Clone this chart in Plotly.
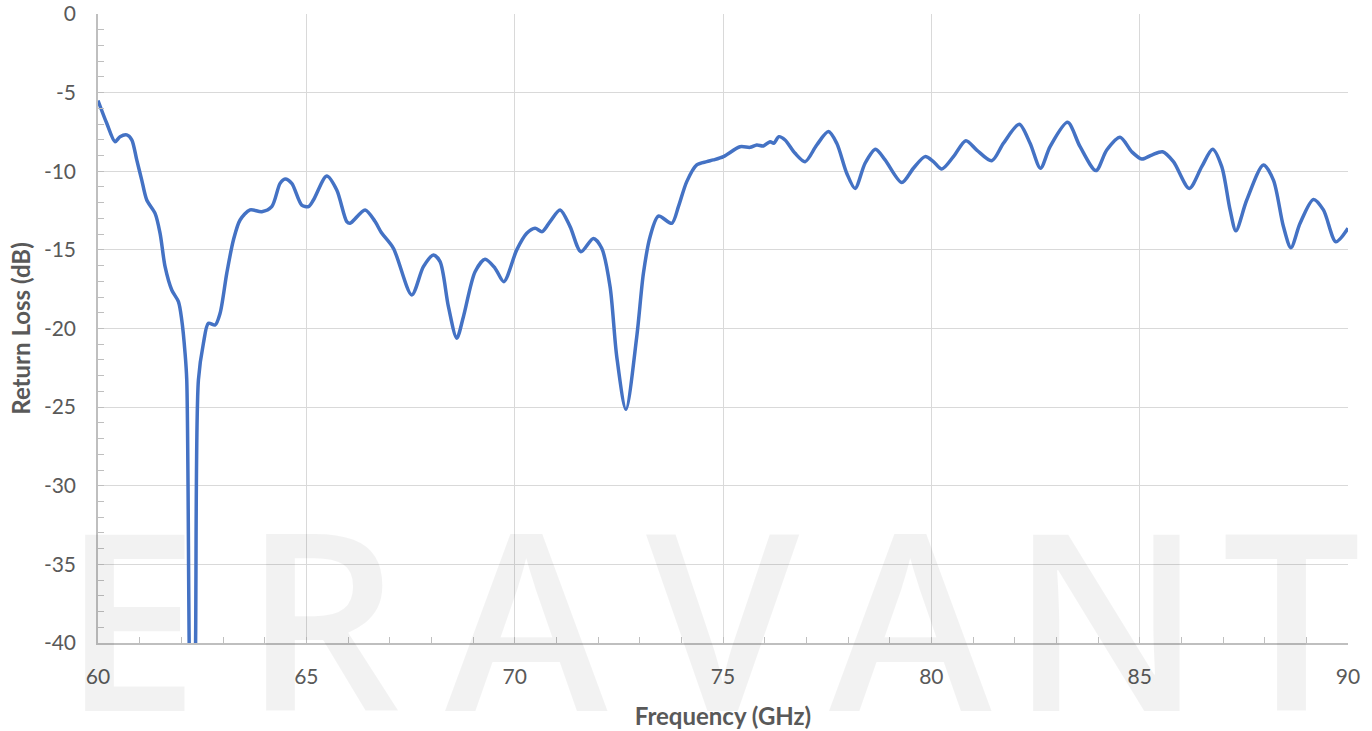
import plotly.graph_objects as go

freq_ghz = [60.00, 60.21, 60.41, 60.53, 60.69, 60.81, 60.93, 61.05, 61.17, 61.37, 61.49, 61.61, 61.77, 61.93,
            62.01, 62.09, 62.13, 62.19, 62.265, 62.34, 62.41, 62.53, 62.65, 62.81, 62.93, 63.09, 63.25, 63.41,
            63.65, 63.93, 64.17, 64.37, 64.49, 64.65, 64.89, 65.05, 65.17, 65.49, 65.73, 65.97, 66.05, 66.41,
            66.65, 66.80, 67.09, 67.53, 67.81, 68.05, 68.21, 68.41, 68.61, 68.77, 69.05, 69.29, 69.53, 69.74,
            70.05, 70.29, 70.49, 70.66, 70.85, 71.09, 71.33, 71.59, 71.89, 72.09, 72.29, 72.45, 72.67, 72.93,
            73.09, 73.25, 73.45, 73.77, 73.93, 74.13, 74.37, 74.61, 74.77, 75.01, 75.41, 75.65, 75.81, 75.97,
            76.13, 76.22, 76.34, 76.49, 76.73, 76.97, 77.25, 77.53, 77.73, 77.97, 78.17, 78.41, 78.66, 78.89,
            79.29, 79.57, 79.85, 80.05, 80.25, 80.53, 80.83, 81.09, 81.45, 81.73, 82.11, 82.37, 82.62, 82.85,
            83.27, 83.57, 83.95, 84.21, 84.53, 84.81, 85.05, 85.29, 85.55, 85.81, 86.19, 86.49, 86.75, 86.97,
            87.17, 87.31, 87.57, 87.97, 88.21, 88.45, 88.63, 88.85, 89.17, 89.41, 89.71, 90.00]

return_loss_db = [-5.5, -6.95, -8.12, -7.8, -7.69, -8.0, -9.28, -10.56, -11.83, -12.68, -13.95, -16.07, -17.55, -18.29,
                  -19.46, -21.58, -23.27, -40.5, -55.0, -40.5, -23.27, -20.94, -19.67, -19.78, -19.03, -16.49, -14.37, -13.1,
                  -12.46, -12.57, -12.25, -10.77, -10.49, -10.77, -12.15, -12.25, -11.83, -10.3, -11.19, -13.2, -13.31, -12.46,
                  -13.2, -13.9, -14.9, -17.87, -16.07, -15.33, -15.75, -18.61, -20.62, -19.25, -16.39, -15.6, -16.17, -17.02,
                  -15.0, -13.95, -13.63, -13.84, -13.2, -12.46, -13.52, -15.12, -14.27, -14.9, -17.34, -21.79, -25.14, -20.52,
                  -16.49, -14.16, -12.85, -13.31, -12.25, -10.66, -9.6, -9.39, -9.28, -9.07, -8.44, -8.48, -8.33, -8.39,
                  -8.12, -8.22, -7.8, -8.01, -8.86, -9.39, -8.33, -7.48, -8.22, -10.13, -11.09, -9.49, -8.6, -9.28,
                  -10.72, -9.81, -9.07, -9.39, -9.86, -9.07, -8.06, -8.65, -9.33, -8.22, -7.01, -8.22, -9.81, -8.44,
                  -6.89, -8.44, -9.96, -8.65, -7.84, -8.76, -9.22, -8.97, -8.76, -9.39, -11.09, -9.71, -8.6, -9.71,
                  -12.46, -13.78, -11.83, -9.6, -10.56, -13.52, -14.86, -13.31, -11.79, -12.46, -14.48, -13.63]

x_tick_values = [60, 65, 70, 75, 80, 85, 90]
y_tick_values = [0, -5, -10, -15, -20, -25, -30, -35, -40]
y_tick_labels = [str(v) for v in y_tick_values]   # plain hyphen minus, as in the reference

watermark_letters = ["E", "R", "A", "V", "A", "N", "T"]
watermark_x = [0.0256, 0.179, 0.343, 0.5, 0.65, 0.807, 0.955]

x_title = "Frequency (GHz)"
y_title = "Return Loss (dB)"

fig = go.Figure()
fig.add_trace(go.Scatter(
    x=freq_ghz, y=return_loss_db, mode="lines",
    line=dict(color="#4472C4", width=3.5, shape="spline", smoothing=0.8),
    showlegend=False, hoverinfo="x+y"))

for letter, xp in zip(watermark_letters, watermark_x):
    fig.add_annotation(text=letter, xref="paper", yref="paper", x=xp, y=0.043,
                       xanchor="center", yanchor="middle", showarrow=False,
                       font=dict(family="Open Sans", size=246, weight=600, color="rgba(0,0,0,0.05)"))

axis_common = dict(
    showline=True, linecolor="#bfbfbf", linewidth=1.5,
    showgrid=True, gridcolor="#d9d9d9", gridwidth=1.2,
    zeroline=False, ticks="inside", ticklen=6, tickcolor="#bfbfbf", tickwidth=1,
    tickfont=dict(family="Lato", size=21, color="#595959"),
    automargin=False,
)

fig.update_xaxes(range=[60, 90], tickvals=x_tick_values, ticktext=[str(v) for v in x_tick_values],
                 minor=dict(dtick=1, ticks="inside", ticklen=6, tickcolor="#bfbfbf", showgrid=False),
                 ticklabelstandoff=14,
                 title=dict(text=x_title, font=dict(family="Lato", size=24, color="#595959", weight="bold"), standoff=21),
                 **axis_common)
fig.update_yaxes(range=[-40, 0], tickvals=y_tick_values, ticktext=y_tick_labels,
                 minor=dict(dtick=1, ticks="inside", ticklen=6, tickcolor="#bfbfbf", showgrid=False),
                 ticklabelstandoff=16,
                 title=dict(text=y_title, font=dict(family="Lato", size=24, color="#595959", weight="bold"), standoff=6),
                 **axis_common)

fig.update_layout(
    width=1372, height=731,
    margin=dict(l=98, r=24, t=14, b=88),
    paper_bgcolor="white", plot_bgcolor="rgba(0,0,0,0)",
    font=dict(family="Lato", color="#595959"),
)

fig.write_html("out.html", config={"displayModeBar": False},
               post_script="document.body.style.margin='0px';")
